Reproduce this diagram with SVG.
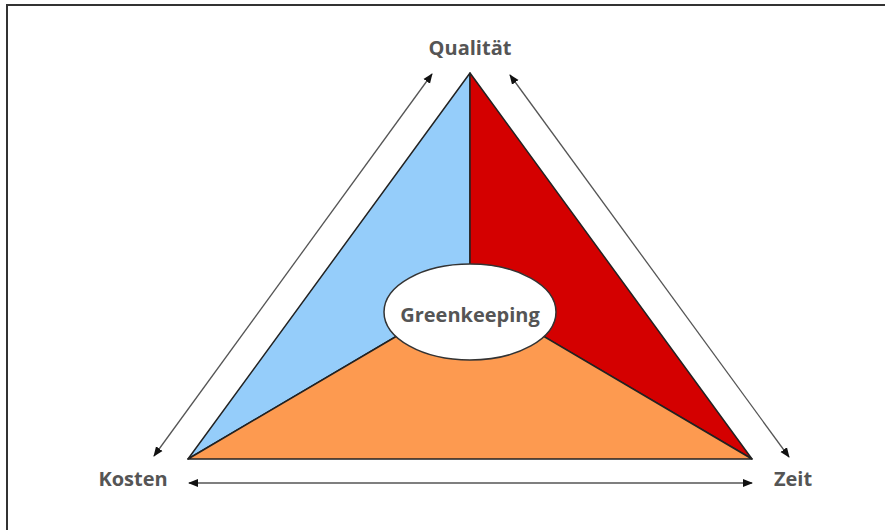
<svg xmlns="http://www.w3.org/2000/svg" width="885" height="530" viewBox="0 0 885 530">
<defs>
<style>
.lbl{font-family:"Open Sans","Liberation Sans",sans-serif;font-weight:bold;fill:#555555;font-size:20px}
.arr{stroke:#555;stroke-width:1.3;fill:none;marker-start:url(#ah);marker-end:url(#ah)}
.part{stroke:#222;stroke-width:1.5;stroke-linejoin:round}
</style>
<marker id="ah" viewBox="0 0 10 10" refX="9" refY="5" markerWidth="10" markerHeight="10" markerUnits="userSpaceOnUse" orient="auto-start-reverse">
<path d="M0,1 L10,5 L0,9 Z" fill="#111"/>
</marker>
</defs>
<rect x="7" y="5" width="890" height="540" fill="#fff" stroke="#333" stroke-width="2"/>
<g id="triangle">
<path class="part" d="M470,73 L188,459 L470,293 Z" fill="#95cdfa"/>
<path class="part" d="M470,73 L752,459 L470,293 Z" fill="#d40000"/>
<path class="part" d="M188,459 L752,459 L470,293 Z" fill="#fd9a50"/>
</g>
<g id="greenkeeping">
<ellipse cx="470" cy="312" rx="86" ry="48" fill="#fff" stroke="#333" stroke-width="1.5"/>
<text class="lbl" x="470" y="322" text-anchor="middle">Greenkeeping</text>
</g>
<g id="qualitaet"><text class="lbl" x="470" y="55" text-anchor="middle">Qualität</text></g>
<g id="kosten"><text class="lbl" x="133" y="486" text-anchor="middle">Kosten</text></g>
<g id="zeit"><text class="lbl" x="793" y="486" text-anchor="middle">Zeit</text></g>
<g id="connectors">
<line class="arr" x1="154" y1="456" x2="432" y2="74"/>
<line class="arr" x1="510" y1="75" x2="789" y2="457"/>
<line class="arr" x1="189" y1="483" x2="752" y2="483"/>
</g>
</svg>
